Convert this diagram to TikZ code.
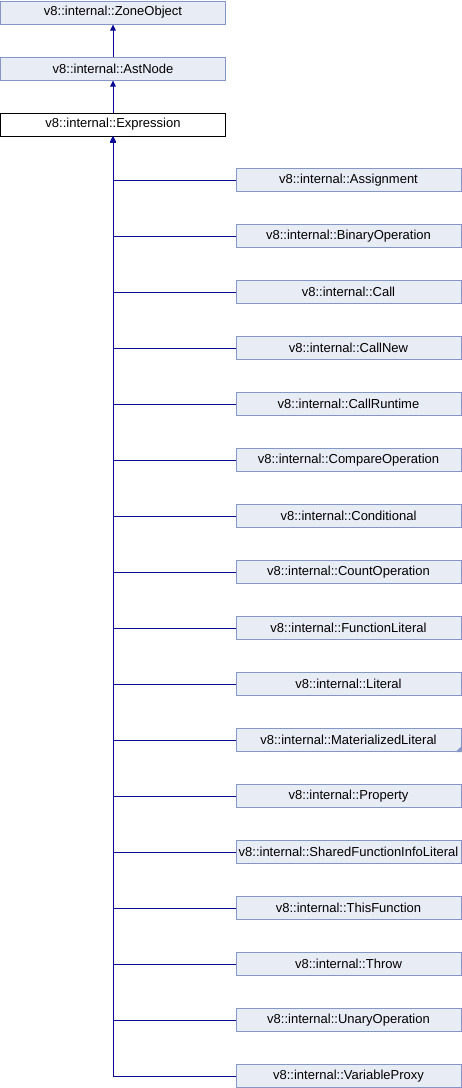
\documentclass[tikz,border=0pt]{standalone}
\usepackage{fontspec}
\setmainfont{Liberation Sans}
\usetikzlibrary{arrows.meta}
\definecolor{boxfill}{RGB}{232,236,245}
\definecolor{boxdraw}{RGB}{132,151,200}
\definecolor{edgecol}{RGB}{10,10,150}
\tikzset{
  cls/.style={draw=boxdraw, fill=boxfill, line width=1pt, minimum width=225pt, minimum height=23pt, inner sep=0pt, font=\fontsize{13}{15}\selectfont},
  cur/.style={cls, draw=black, fill=white},
  edge/.style={draw=edgecol, line width=1pt, -{Triangle[length=6pt,width=5.5pt]}},
}
\begin{document}
\begin{tikzpicture}[x=1pt,y=1pt]
\useasboundingbox (0,0) rectangle (462,-1088);
\node[cls] (zone) at (113,-12.5) {v8::internal::ZoneObject};
\node[cls] (ast) at (113,-68.5) {v8::internal::AstNode};
\node[cur] (expr) at (113,-124.5) {v8::internal::Expression};
\draw[edge] (ast.north) -- (zone.south);
\draw[edge] (expr.north) -- (ast.south);
\foreach \n/\t [count=\i from 0] in {
  c1/Assignment, c2/BinaryOperation, c3/Call, c4/CallNew, c5/CallRuntime,
  c6/CompareOperation, c7/Conditional, c8/CountOperation, c9/FunctionLiteral,
  c10/Literal, c11/MaterializedLiteral, c12/Property, c13/SharedFunctionInfoLiteral,
  c14/ThisFunction, c15/Throw, c16/UnaryOperation, c17/VariableProxy} {
  \node[cls] (\n) at (348.5,{-180-56*\i}) {v8::internal::\t};
  \draw[edge] (\n.west) -| (expr.south);
}
\fill[boxdraw] (c11.south east) -- ++(0,6) -- ++(-6,-6) -- cycle;
\end{tikzpicture}
\end{document}
